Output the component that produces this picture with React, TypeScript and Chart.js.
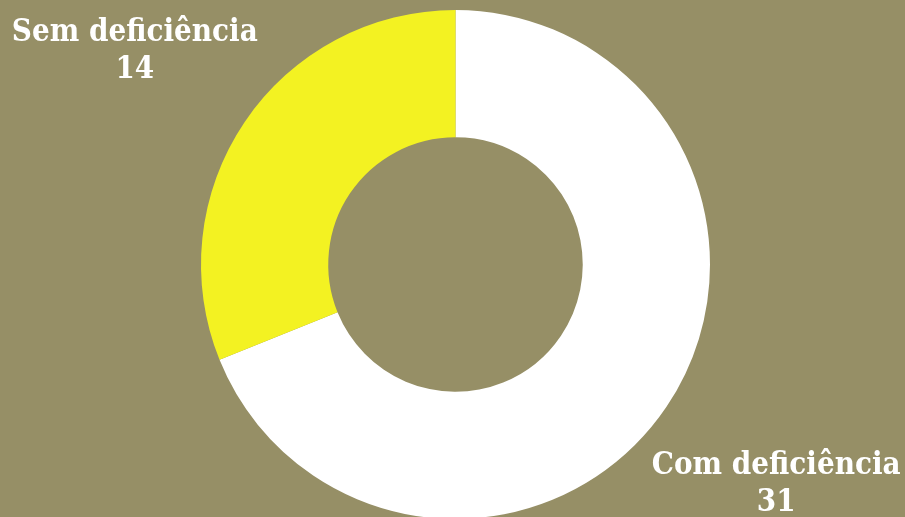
import React, { useEffect, useRef } from "react";
import { Chart, registerables } from "chart.js";

Chart.register(...registerables);

const categories = ["Com deficiência", "Sem deficiência"];
const values = [31, 14];
const colors = ["#ffffff", "#f3f222"];
const BG = "#968f66";

const labelPlugin = {
  id: "outerLabels",
  afterDatasetsDraw(chart: any) {
    const ctx = chart.ctx;
    const meta = chart.getDatasetMeta(0);
    ctx.save();
    ctx.fillStyle = "#ffffff";
    ctx.textAlign = "center";
    ctx.textBaseline = "middle";
    ctx.font = "bold 31px 'DejaVu Serif', serif";
    try {
      (ctx as any).fontStretch = "condensed";
    } catch (e) {}
    meta.data.forEach((arc: any, i: number) => {
      const mid = (arc.startAngle + arc.endAngle) / 2;
      const d = arc.outerRadius * 1.52;
      const cx = arc.x + Math.cos(mid) * d;
      const cy = arc.y + Math.sin(mid) * d;
      ctx.fillText(String(categories[i]), cx, cy - 15);
      ctx.fillText(String(values[i]), cx, cy + 22);
    });
    ctx.restore();
  },
};

export default function App() {
  const ref = useRef<HTMLCanvasElement>(null);
  useEffect(() => {
    document.body.style.margin = "0";
    document.body.style.background = BG;
    const chart = new Chart(ref.current!, {
      type: "doughnut",
      data: {
        labels: categories,
        datasets: [
          {
            data: values,
            backgroundColor: colors,
            borderWidth: 0,
          },
        ],
      },
      options: {
        animation: false,
        responsive: false,
        cutout: "50%",
        layout: { padding: { top: 10, left: 6, right: 0, bottom: 0 } },
        plugins: {
          legend: { display: false },
          tooltip: { enabled: false },
        },
      },
      plugins: [labelPlugin],
    });
    return () => chart.destroy();
  }, []);
  return (
    <div style={{ width: 905, height: 517, overflow: "hidden", background: BG }}>
      <canvas ref={ref} width={905} height={519} style={{ display: "block", width: 905, height: 519 }} />
    </div>
  );
}
